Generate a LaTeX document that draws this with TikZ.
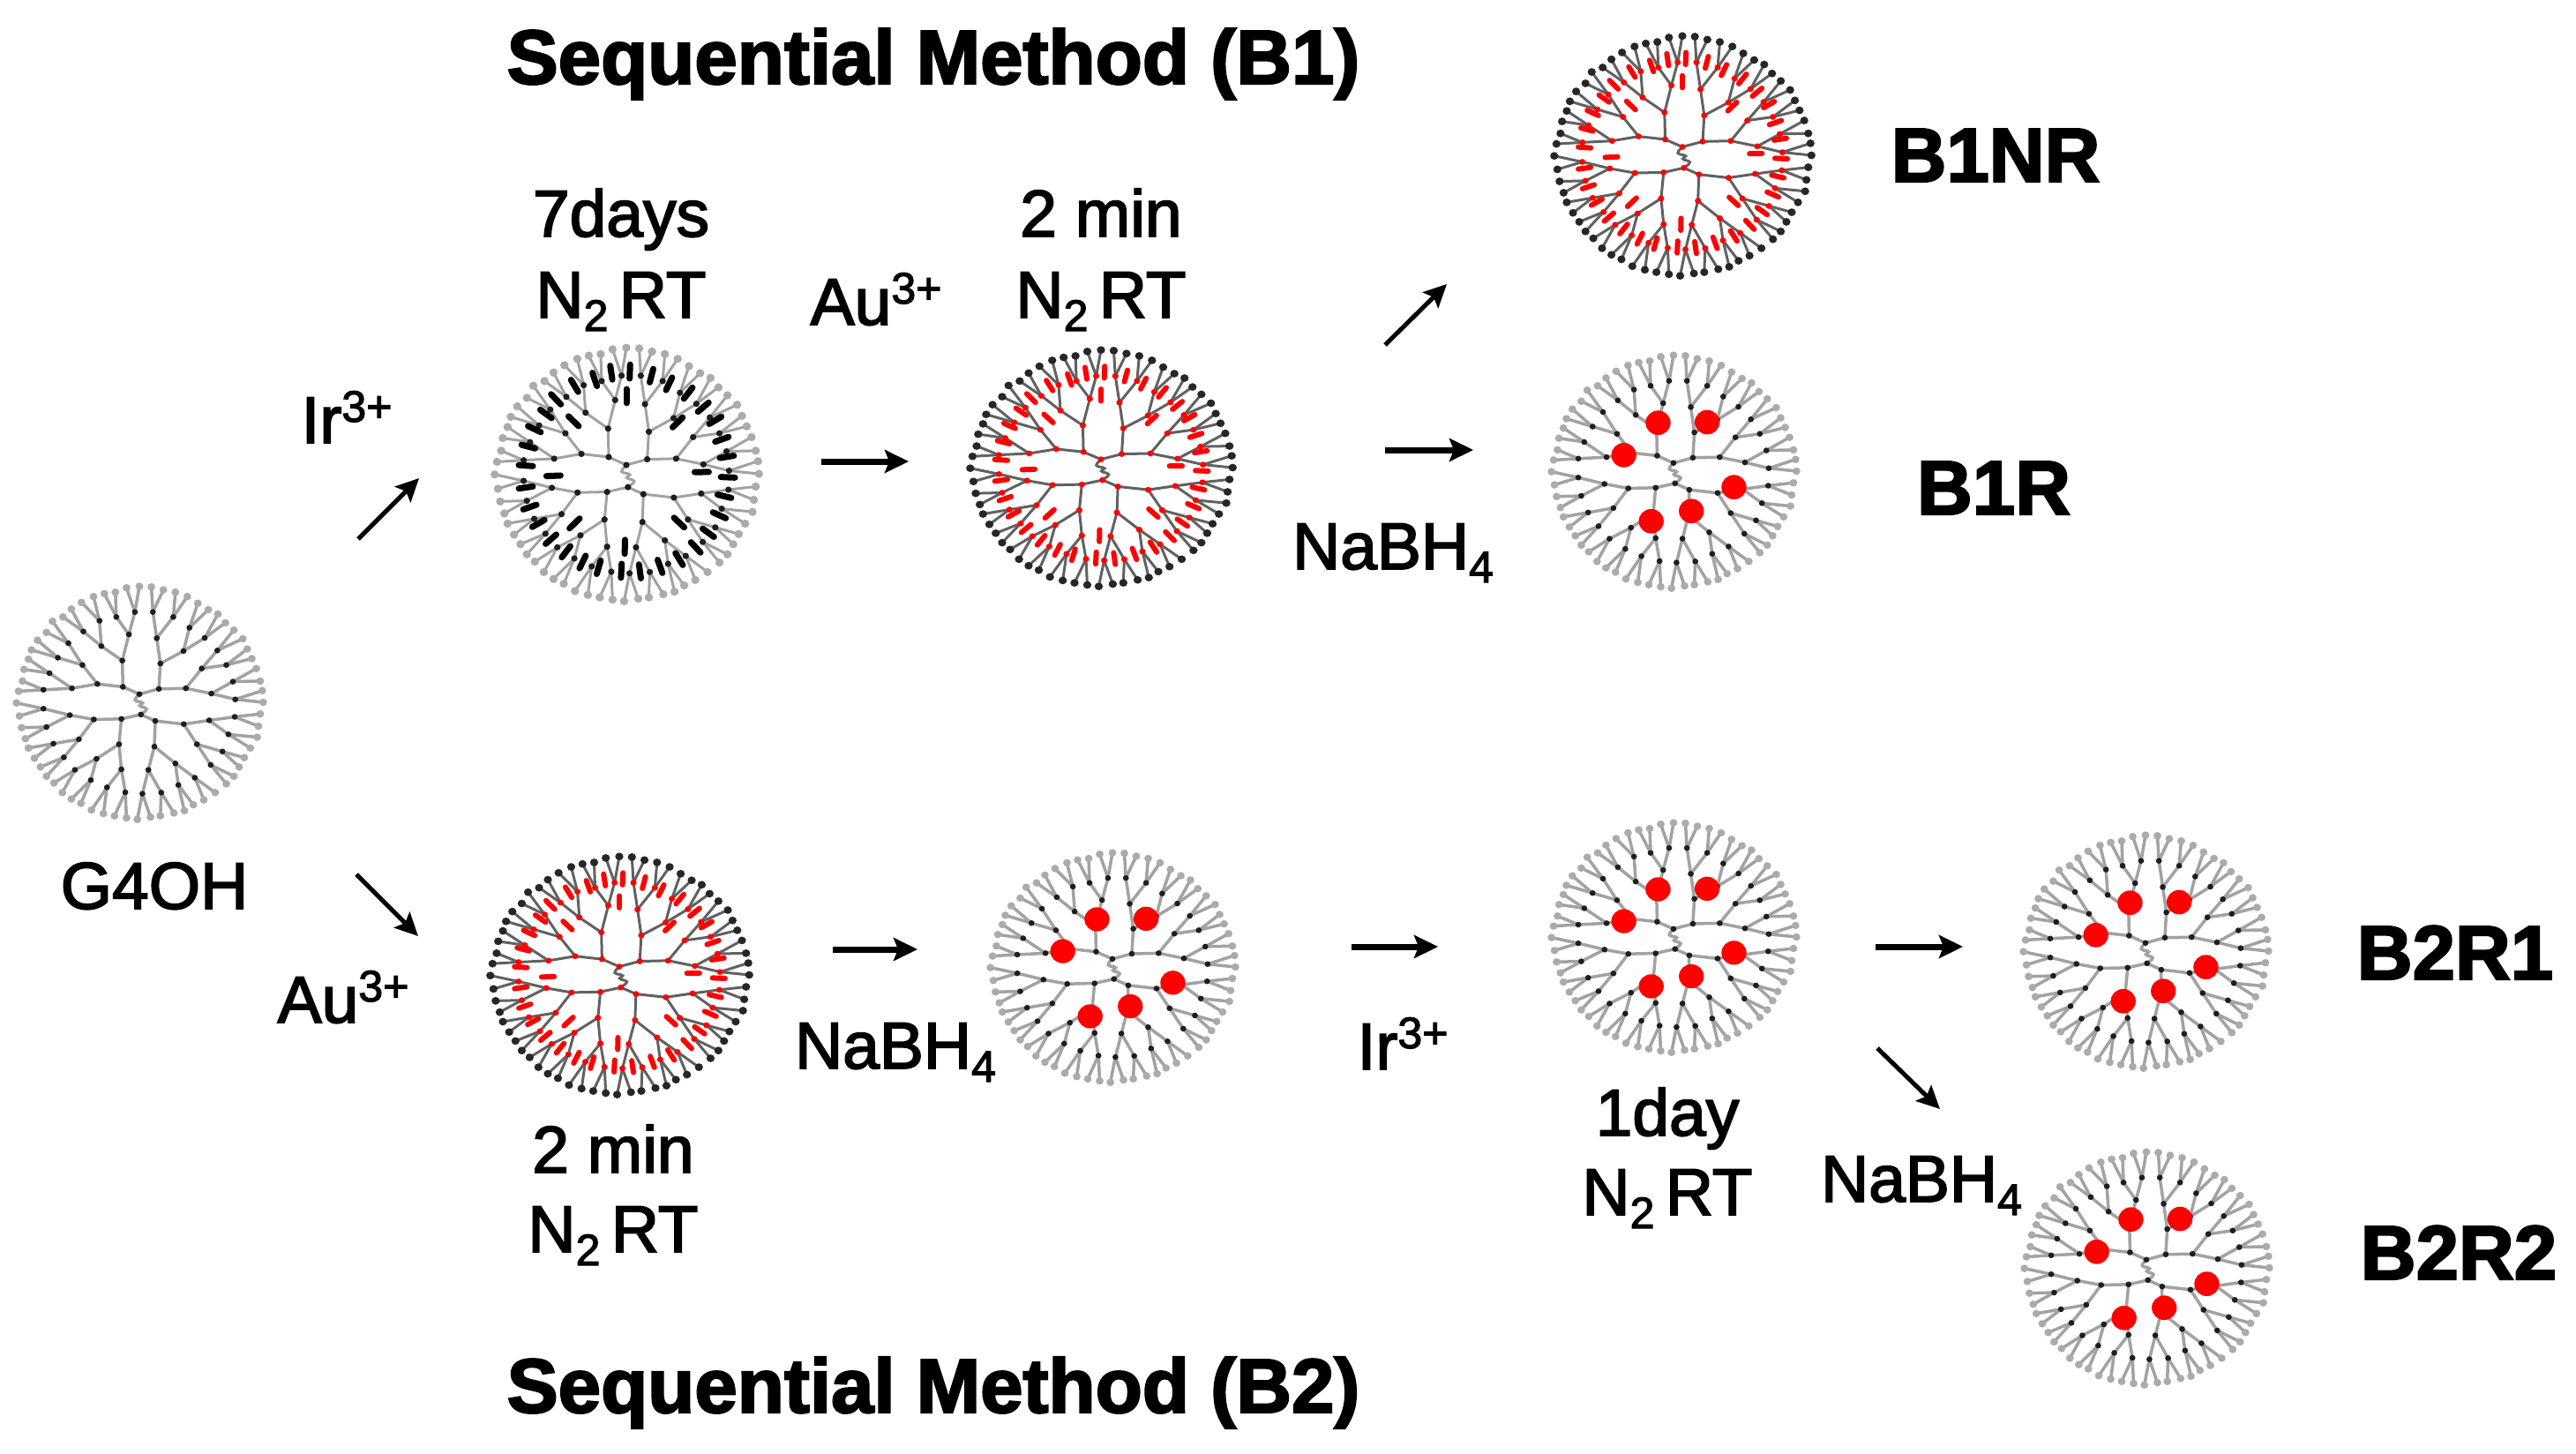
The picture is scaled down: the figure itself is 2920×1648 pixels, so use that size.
\documentclass[tikz,border=0pt]{standalone}
\usepackage{fontspec}
\setmainfont{Liberation Sans}
\newfontfamily\lblfont[FakeBold=2.4]{Liberation Sans}
\newfontfamily\ttlfont[FakeBold=2.6]{Liberation Sans Bold}
\usetikzlibrary{arrows.meta}
\definecolor{rimgray}{HTML}{ABABAB}
\definecolor{armgray}{HTML}{A2A2A2}
\definecolor{inkdark}{HTML}{1E1E1E}
\definecolor{hotred}{HTML}{FF0000}
\tikzset{
  x=1pt,y=-1pt,
  lbl/.style={inner sep=0pt,anchor=base,font=\lblfont\fontsize{75}{80}\selectfont,text=black},
  ttl/.style={inner sep=0pt,anchor=base,font=\ttlfont\fontsize{87}{90}\selectfont,text=black},
  arr/.style={line width=7pt,black,-{Stealth[length=27pt,width=26pt,inset=5pt]}},
  arrdiag/.style={line width=5pt,black,-{Stealth[length=26pt,width=25pt,inset=5pt]}},
}
\newcommand{\ntwo}{N\raisebox{-0.2em}{\fontsize{50}{50}\selectfont 2}\,RT}
\newcommand{\nabh}{NaBH\raisebox{-0.2em}{\fontsize{50}{50}\selectfont 4}}
\newcommand{\chg}[1]{#1\raisebox{0.32em}{\fontsize{50}{50}\selectfont 3+}}
% current styling of a dendrimer
\def\armcol{armgray}\def\leafcol{rimgray}\def\nodecol{inkdark}\def\armw{3.5}
\newcommand{\seg}[4]{\draw[\armcol,line width=\armw pt] (#1,#2)--(#3,#4);}
\newcommand{\knot}[2]{\fill[\nodecol] (#1,#2) circle[radius=10];}
\newcommand{\twig}[8]{% parent, mid, leaf, leaf
  \seg{#1}{#2}{#3}{#4}\seg{#3}{#4}{#5}{#6}\seg{#3}{#4}{#7}{#8}%
  \fill[\leafcol] (#5,#6) circle[radius=13];\fill[\leafcol] (#7,#8) circle[radius=13];%
  \knot{#3}{#4}}
\newcommand{\fork}[6]{\seg{#1}{#2}{#3}{#4}\seg{#1}{#2}{#5}{#6}}
\newcommand{\skeleton}{%
  % core
  \draw[\armcol,line width=\armw pt,rounded corners=4pt] (475,440)--(455,462)--(492,470)--(470,480)--(505,490)--(480,510);
  \fork{475}{440}{420}{415}{540}{422}\fork{480}{510}{415}{525}{528}{532}
  % top left
  \fork{420}{415}{418}{325}{335}{405}
  \fork{418}{325}{440}{235}{348}{275}\fork{335}{405}{285}{340}{250}{420}
  \twig{440}{235}{460}{158}{475}{70}{432}{75}\twig{440}{235}{398}{175}{395}{90}{358}{95}
  \twig{348}{275}{342}{188}{322}{105}{282}{125}\twig{348}{275}{288}{225}{248}{148}{220}{175}
  \twig{285}{340}{238}{265}{185}{190}{165}{228}\twig{285}{340}{203}{315}{135}{255}{115}{288}
  \twig{250}{420}{175}{368}{105}{320}{90}{355}\twig{250}{420}{155}{425}{85}{395}{72}{430}
  % top right
  \fork{540}{422}{545}{335}{630}{420}
  \fork{545}{335}{533}{248}{622}{292}\fork{630}{420}{683}{352}{715}{438}
  \twig{533}{248}{520}{158}{515}{72}{555}{82}\twig{533}{248}{588}{175}{595}{90}{635}{105}
  \twig{622}{292}{642}{212}{670}{128}{705}{150}\twig{622}{292}{693}{247}{737}{165}{762}{195}
  \twig{683}{352}{735}{290}{790}{220}{820}{250}\twig{683}{352}{765}{340}{835}{285}{850}{318}
  \twig{715}{438}{787}{397}{865}{352}{878}{395}\twig{715}{438}{795}{458}{885}{428}{888}{468}
  % bottom left
  \fork{415}{525}{407}{612}{323}{527}
  \fork{407}{612}{415}{698}{332}{662}\fork{323}{527}{273}{595}{243}{512}
  \twig{415}{698}{428}{777}{432}{865}{392}{858}\twig{415}{698}{367}{760}{355}{850}{315}{838}
  \twig{332}{662}{313}{735}{280}{815}{248}{800}\twig{332}{662}{260}{700}{218}{778}{190}{745}
  \twig{273}{595}{223}{657}{165}{722}{145}{690}\twig{273}{595}{188}{610}{125}{660}{105}{625}
  \twig{243}{512}{165}{553}{95}{593}{82}{555}\twig{243}{512}{155}{490}{75}{515}{65}{470}
  % bottom right
  \fork{528}{532}{525}{620}{623}{543}
  \fork{525}{620}{505}{700}{595}{678}\fork{623}{543}{667}{612}{708}{530}
  \twig{505}{700}{485}{782}{468}{870}{512}{862}\twig{505}{700}{548}{778}{545}{858}{590}{848}
  \twig{595}{678}{605}{752}{625}{840}{655}{820}\twig{595}{678}{660}{727}{690}{803}{728}{778}
  \twig{667}{612}{713}{683}{765}{748}{790}{722}\twig{667}{612}{752}{637}{808}{690}{825}{658}
  \twig{708}{530}{772}{578}{845}{625}{868}{588}\twig{708}{530}{793}{518}{872}{550}{878}{508}
  % inner generation knots
  \foreach \kx/\ky in {475/440,480/510,420/415,540/422,415/525,528/532,418/325,335/405,545/335,630/420,407/612,323/527,525/620,623/543,
    440/235,348/275,285/340,250/420,533/248,622/292,683/352,715/438,415/698,332/662,273/595,243/512,505/700,595/678,667/612,708/530}{\knot{\kx}{\ky}}%
}
% rods: positions normalised to the frame (475,465)
\newcommand{\rods}[3]{%
  \foreach \px/\py in {265/152,302/148,345/162,380/190,418/222,448/270,472/315,485/380,495/440,497/510,490/575,480/640,458/700,433/750,400/790,362/815,322/832,285/830,240/818,208/800,175/765,145/722,120/668,103/612,95/545,95/470,100/405,112/345,135/293,155/243,192/197,232/175,295/232,190/318,397/322,445/492,150/505,400/665,192/668,292/748}{%
    \pgfmathsetmacro{\cu}{(\px-295)/265*415}%
    \pgfmathsetmacro{\cv}{(\py-495)/450*415}%
    \pgfmathsetmacro{\cl}{max(veclen(\cu,\cv),1)}%
    \draw[#1,line width=#2pt,line cap=round] ({475+\cu+#3*\cu/\cl},{465+\cv+#3*\cv/\cl})--({475+\cu-#3*\cu/\cl},{465+\cv-#3*\cv/\cl});}%
}
\newcommand{\reddots}{%
  \foreach \rx/\ry in {423/302,588/300,308/413,678/523,535/605,400/640}{\fill[hotred] (\rx,\ry) circle[radius=42];}%
}
% frame: centre (475,465) of radius 415 goes to (#1,#2) with radii #3,#4
\newcommand{\inframe}[5]{%
  \begin{scope}[shift={(#1,#2)},x=#3/415*1pt,y=-#4/415*1pt,shift={(-475,-465)}]#5\end{scope}}
\newcommand{\plain}[4]{\inframe{#1}{#2}{#3}{#4}{\def\armcol{armgray}\def\leafcol{rimgray}\def\nodecol{inkdark}\def\armw{3.5}\skeleton}}
\newcommand{\ironly}[4]{\inframe{#1}{#2}{#3}{#4}{\def\armcol{armgray}\def\leafcol{rimgray}\def\nodecol{inkdark}\def\armw{3}\skeleton\rods{black}{7}{22}}}
\newcommand{\goldir}[4]{\inframe{#1}{#2}{#3}{#4}{\def\armcol{black!62}\def\leafcol{black!85}\def\nodecol{hotred}\def\armw{3}\skeleton\rods{hotred}{6}{20}}}
\newcommand{\dotted}[4]{\inframe{#1}{#2}{#3}{#4}{\def\armcol{armgray}\def\leafcol{rimgray}\def\nodecol{inkdark}\def\armw{3.5}\skeleton\reddots}}
\begin{document}
\begin{tikzpicture}
\useasboundingbox (0,0) rectangle (2920,1648);
\fill[white] (0,0) rectangle (2920,1648);
% dendrimers
\plain{158}{795}{141}{137}
\ironly{710}{536}{151}{149}
\goldir{1248}{529}{150}{139}
\goldir{1907}{175}{147}{141}
\dotted{1897}{533}{140}{137}
\goldir{702}{1104}{148}{140}
\dotted{1261}{1095}{140}{135}
\dotted{1897}{1061}{140}{135}
\dotted{2432}{1077}{140}{137}
\dotted{2433}{1436}{140}{137}
% labels
\node[ttl] (t1) at (1058,95) {Sequential Method (B1)};
\node[ttl] (t2) at (1058,1601) {Sequential Method (B2)};
\node[ttl] (r1) at (2262,206) {B1NR};
\node[ttl] (r2) at (2260,583) {B1R};
\node[ttl] (r3) at (2783,1110) {B2R1};
\node[ttl] (r4) at (2787,1450) {B2R2};
\node[lbl] (a1) at (704,268) {7days};
\node[lbl] (a2) at (704,360) {\ntwo};
\node[lbl] (a3) at (1248,268) {2 min};
\node[lbl] (a4) at (1248,360) {\ntwo};
\node[lbl] (a5) at (993,368) {\chg{Au}};
\node[lbl] (a6) at (393,502) {\chg{Ir}};
\node[lbl] (a7) at (1579,645) {\nabh};
\node[lbl] (a8) at (175,1030) {G4OH};
\node[lbl] (a9) at (389,1159) {\chg{Au}};
\node[lbl] (a10) at (1015,1211) {\nabh};
\node[lbl] (a11) at (1590,1212) {\chg{Ir}};
\node[lbl] (a12) at (695,1329) {2 min};
\node[lbl] (a13) at (695,1419) {\ntwo};
\node[lbl] (a14) at (1890,1287) {1day};
\node[lbl] (a15) at (1890,1377) {\ntwo};
\node[lbl] (a16) at (2178,1362) {\nabh};
% arrows
\coordinate (s1) at (406,611); \coordinate (e1) at (475,542);
\coordinate (s2) at (931,523); \coordinate (e2) at (1030,523);
\coordinate (s3) at (1570,391); \coordinate (e3) at (1640,322);
\coordinate (s4) at (1570,510); \coordinate (e4) at (1670,510);
\coordinate (s5) at (404,991); \coordinate (e5) at (474,1061);
\coordinate (s6) at (944,1076); \coordinate (e6) at (1040,1076);
\coordinate (s7) at (1532,1073); \coordinate (e7) at (1630,1073);
\coordinate (s8) at (2126,1073); \coordinate (e8) at (2225,1073);
\coordinate (s9) at (2128,1188); \coordinate (e9) at (2199,1257);
\foreach \i in {2,4,6,7,8}{\draw[arr] (s\i)--(e\i);}
\foreach \i in {1,3,5,9}{\draw[arrdiag] (s\i)--(e\i);}
\end{tikzpicture}
\end{document}
